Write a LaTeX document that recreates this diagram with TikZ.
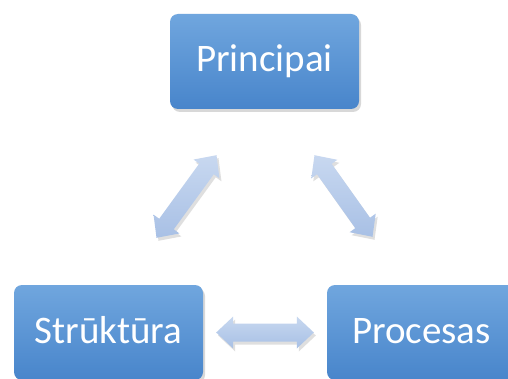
\documentclass[tikz,border=0pt]{standalone}
\usepackage{fontspec}
\setmainfont{Carlito}
\usetikzlibrary{calc,shadows}

\definecolor{boxtop}{RGB}{112,166,222}
\definecolor{boxbot}{RGB}{72,133,203}
\definecolor{arrtop}{RGB}{200,216,240}
\definecolor{arrbot}{RGB}{168,192,229}

\tikzset{
	box/.style={rectangle, rounded corners=8pt, minimum width=189pt, minimum height=95pt,
		top color=boxtop, bottom color=boxbot, text=white,
		font=\fontsize{39}{39}\selectfont, text height=25pt, text depth=4pt,
		drop shadow={opacity=0.3, shadow xshift=2pt, shadow yshift=-3pt}},
	linkarrow/.style={top color=arrtop, bottom color=arrbot,
		drop shadow={opacity=0.25, shadow xshift=2pt, shadow yshift=-3pt}}
}

%Block arrow with a head at both ends
\newcommand{\twoway}[2]{%
	\path[linkarrow] (#1) -- ($(#1)!\hl!(#2)!\hw!90:(#2)$) -- ($(#1)!\hl!(#2)!\sw!90:(#2)$)
	-- ($(#2)!\hl!(#1)!\sw!-90:(#1)$) -- ($(#2)!\hl!(#1)!\hw!-90:(#1)$) -- (#2)
	-- ($(#2)!\hl!(#1)!\hw!90:(#1)$) -- ($(#2)!\hl!(#1)!\sw!90:(#1)$)
	-- ($(#1)!\hl!(#2)!\sw!-90:(#2)$) -- ($(#1)!\hl!(#2)!\hw!-90:(#2)$) -- cycle;}

\begin{document}
\begin{tikzpicture}[x=1pt,y=1pt]
		
		%Arrow sizes
		\def\hl{17pt}
		\def\hw{16pt}
		\def\sw{9pt}
		
		\useasboundingbox (0,0) rectangle (508,378);
		\clip (0,0) rectangle (508,378);
		\fill[white] (0,0) rectangle (508,378);
		
		%Boxes
		\node[box] (prin) at (264.5,316.5) {Principai};
		\node[box] (stru) at (108.5,45.5) {Strūktūra};
		\node[box] (proc) at (421.5,45.5) {Procesas};
		
		%Arrow ends
		\coordinate (pl) at ([shift={(-48,-46)}]prin.south);
		\coordinate (pr) at ([shift={(50,-46)}]prin.south);
		\coordinate (sp) at ([shift={(48,47)}]stru.north);
		\coordinate (ps) at ([shift={(-49,48)}]proc.north);
		\coordinate (sr) at ([xshift=13pt]stru.east);
		\coordinate (pw) at ([xshift=-13pt]proc.west);
		
		%Drawing arrows
		\twoway{pl}{sp}
		\twoway{pr}{ps}
		\twoway{sr}{pw}
	\end{tikzpicture}
\end{document}
